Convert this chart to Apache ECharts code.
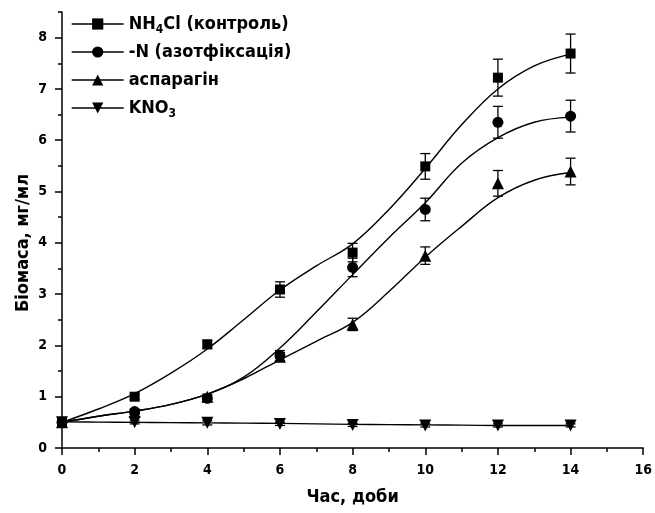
<!DOCTYPE html>
<html>
<head>
<meta charset="utf-8">
<script src="https://cdn.jsdelivr.net/npm/echarts@6/dist/echarts.min.js"></script>
<style>
  html, body { margin: 0; padding: 0; background: #fff; }
  #main { width: 655px; height: 513px; }
</style>
</head>
<body>
<div id="main"></div>
<script>
// measured points (days)
var days = [0, 2, 4, 6, 8, 10, 12, 14];
var nh4cl = [0.5, 1.0, 2.02, 3.09, 3.81, 5.49, 7.22, 7.69];
var nh4clErr = [0, 0.05, 0.08, 0.15, 0.18, 0.25, 0.36, 0.38];
var nFix = [0.5, 0.71, 0.97, 1.8, 3.52, 4.65, 6.35, 6.47];
var nFixErr = [0, 0.05, 0.06, 0.1, 0.18, 0.22, 0.31, 0.31];
var asparagine = [0.5, 0.7, 1.0, 1.78, 2.41, 3.75, 5.16, 5.39];
var asparagineErr = [0, 0.04, 0.05, 0.08, 0.12, 0.17, 0.25, 0.26];
var kno3 = [0.5, 0.5, 0.49, 0.47, 0.45, 0.44, 0.44, 0.44];
var kno3Err = [0, 0.03, 0.04, 0.03, 0.03, 0.03, 0.03, 0.03];

// fitted curves at each day
var fitDays = [0, 1, 2, 3, 4, 5, 6, 7, 8, 9, 10, 11, 12, 13, 14];
var nh4clFit = [0.5, 0.76, 1.06, 1.46, 1.93, 2.5, 3.08, 3.55, 3.98, 4.65, 5.45, 6.3, 7.0, 7.45, 7.68];
var nFixFit = [0.5, 0.62, 0.72, 0.85, 1.05, 1.38, 1.95, 2.65, 3.38, 4.1, 4.78, 5.55, 6.05, 6.35, 6.45];
var asparagineFit = [0.5, 0.62, 0.72, 0.85, 1.05, 1.35, 1.72, 2.08, 2.45, 3.05, 3.72, 4.32, 4.88, 5.22, 5.37];
var kno3Fit = [0.51, 0.505, 0.5, 0.495, 0.49, 0.485, 0.48, 0.47, 0.46, 0.455, 0.45, 0.445, 0.44, 0.44, 0.44];

var names = ['NH4Cl (контроль)', '-N (азотфіксація)', 'аспарагін', 'KNO3'];
var yMajor = [0, 1, 2, 3, 4, 5, 6, 7, 8];

var FONT = "'Liberation Sans Narrow', 'DejaVu Sans Condensed', 'Liberation Sans', sans-serif";

function pairs(xs, ys) {
  return xs.map(function (x, i) { return [x, ys[i]]; });
}
function errPairs(xs, ys, es) {
  return xs.map(function (x, i) { return [x, ys[i] - es[i], ys[i] + es[i]]; });
}

function errorBar(params, api) {
  var x = api.value(0);
  if (api.value(2) - api.value(1) < 0.001) return;
  var lo = api.coord([x, api.value(1)]);
  var hi = api.coord([x, api.value(2)]);
  var w = 5;
  var st = { stroke: '#000', lineWidth: 1.3 };
  return {
    type: 'group',
    children: [
      { type: 'line', shape: { x1: lo[0], y1: lo[1], x2: hi[0], y2: hi[1] }, style: st },
      { type: 'line', shape: { x1: lo[0] - w, y1: lo[1], x2: lo[0] + w, y2: lo[1] }, style: st },
      { type: 'line', shape: { x1: hi[0] - w, y1: hi[1], x2: hi[0] + w, y2: hi[1] }, style: st }
    ]
  };
}

function pointSeries(name, data, symbol, size, rotate) {
  return {
    name: name, type: 'line', data: pairs(days, data),
    symbol: symbol, symbolSize: size, symbolRotate: rotate || 0,
    showAllSymbol: true,
    itemStyle: { color: '#000' },
    lineStyle: { width: 0, opacity: 0 },
    z: 4, animation: false
  };
}
function fitSeries(data) {
  return {
    type: 'line', data: pairs(fitDays, data), smooth: 0.4,
    symbol: 'none', lineStyle: { color: '#000', width: 1.4 },
    silent: true, z: 3, animation: false
  };
}
function errSeries(data, err) {
  return {
    type: 'custom', renderItem: errorBar, data: errPairs(days, data, err),
    encode: { x: 0, y: [1, 2] }, z: 3, animation: false, silent: true
  };
}

var myChart = echarts.init(document.getElementById('main'));

var option = {
  backgroundColor: '#fff',
  animation: false,
  grid: { left: 62, right: 5, top: 12, bottom: 65 },
  legend: {
    data: names,
    orient: 'vertical',
    left: 66, top: 10,
    itemWidth: 52, itemHeight: 14, itemGap: 7,
    lineStyle: { width: 1.4, opacity: 1, color: '#000' },
    itemStyle: { color: '#000' },
    formatter: function (n) {
      if (n === 'NH4Cl (контроль)') return '{t|NH}{s|4}{t|Cl (контроль)}';
      if (n === 'KNO3') return '{t|KNO}{s|3}';
      return '{t|' + n + '}{s| }';
    },
    textStyle: {
      fontFamily: FONT, fontWeight: 'bold', fontSize: 18, color: '#000',
      rich: {
        t: { fontFamily: FONT, fontWeight: 'bold', fontSize: 18, color: '#000', lineHeight: 24, verticalAlign: 'middle' },
        s: { fontFamily: FONT, fontWeight: 'bold', fontSize: 12, color: '#000', lineHeight: 8, verticalAlign: 'bottom' }
      }
    }
  },
  xAxis: [{
    type: 'value', min: 0, max: 16, interval: 2,
    name: 'Час, доби', nameLocation: 'middle', nameGap: 40,
    nameTextStyle: { fontFamily: FONT, fontWeight: 'bold', fontSize: 18, color: '#000' },
    axisLine: { lineStyle: { color: '#000', width: 1.5 } },
    axisTick: { length: 7, lineStyle: { color: '#000', width: 1.5 } },
    minorTick: { show: true, splitNumber: 2, length: 4, lineStyle: { color: '#000', width: 1.5 } },
    axisLabel: { margin: 15, fontFamily: FONT, fontWeight: 'bold', fontSize: 14, color: '#000' },
    splitLine: { show: false }
  }],
  yAxis: [{
    type: 'value', min: 0, max: 8.5,
    name: 'Біомаса, мг/мл', nameLocation: 'middle', nameGap: 30, nameMoveOverlap: false,
    nameTextStyle: { fontFamily: FONT, fontWeight: 'bold', fontSize: 18, color: '#000', padding: [0, 26, 0, 0] },
    axisLine: { lineStyle: { color: '#000', width: 1.5 } },
    axisTick: { length: 7, customValues: yMajor, lineStyle: { color: '#000', width: 1.5 } },
    axisLabel: { margin: 15, customValues: yMajor, fontFamily: FONT, fontWeight: 'bold', fontSize: 14, color: '#000' },
    splitLine: { show: false }
  }, {
    type: 'value', min: 0, max: 8.5, interval: 0.5, position: 'left',
    axisLine: { show: false },
    axisTick: { length: 4, lineStyle: { color: '#000', width: 1.5 } },
    axisLabel: { show: false },
    splitLine: { show: false }
  }],
  series: [
    fitSeries(nh4clFit), fitSeries(nFixFit), fitSeries(asparagineFit), fitSeries(kno3Fit),
    errSeries(nh4cl, nh4clErr), errSeries(nFix, nFixErr), errSeries(asparagine, asparagineErr), errSeries(kno3, kno3Err),
    pointSeries(names[0], nh4cl, 'rect', 10),
    pointSeries(names[1], nFix, 'circle', 11),
    pointSeries(names[2], asparagine, 'triangle', 12),
    pointSeries(names[3], kno3, 'triangle', 12, 180)
  ]
};

myChart.setOption(option);
</script>
</body>
</html>
